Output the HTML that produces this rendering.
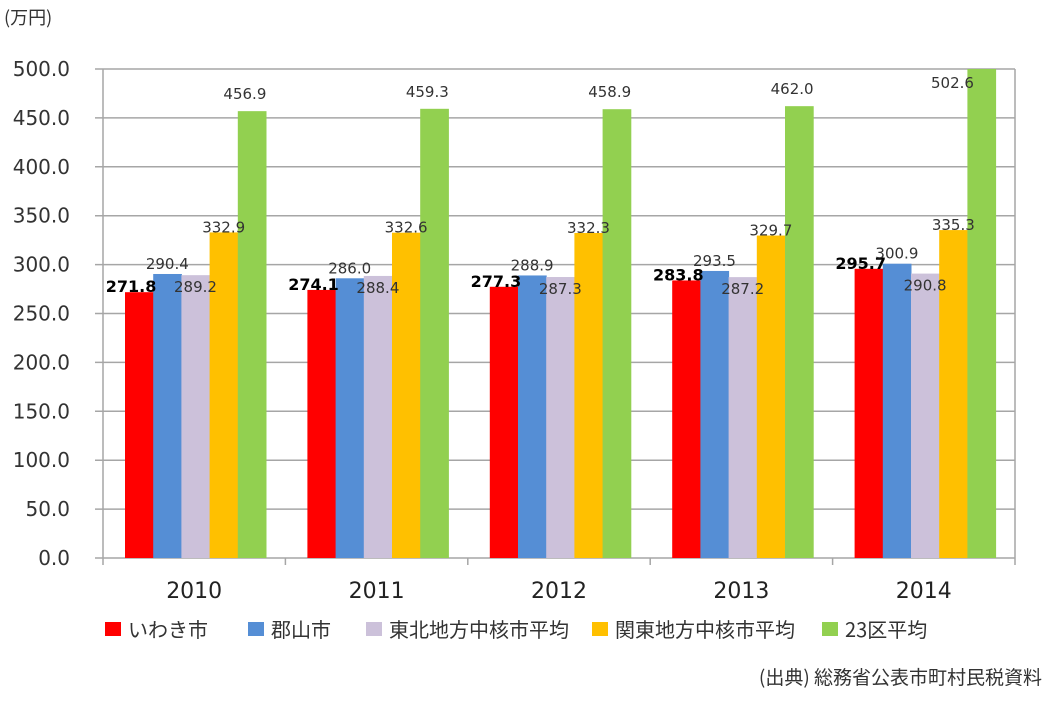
<!DOCTYPE html>
<html><head><meta charset="utf-8"><style>
body{margin:0;background:#fff;}
svg text{font-family:"DejaVu Sans","Noto Sans CJK JP",sans-serif;}
svg text.jp{font-family:"Noto Sans CJK JP",sans-serif;}
</style></head><body>
<svg width="1051" height="698" xmlns="http://www.w3.org/2000/svg" id="chart">
<text x="4" y="24" font-size="18" fill="#333" class="jp">(万円)</text>
<g id="grid"></g><g id="bars"></g><g id="labels"></g><g id="axes"></g><g id="legend"></g>
<text x="1042" y="684" font-size="19" fill="#333" text-anchor="end" class="jp">(出典) 総務省公表市町村民税資料</text>
</svg>
<script>
const years=["2010","2011","2012","2013","2014"];
const seriesNames=["いわき市","郡山市","東北地方中核市平均","関東地方中核市平均","23区平均"];
const iwaki=[271.8,274.1,277.3,283.8,295.7];
const koriyama=[290.4,286.0,288.9,293.5,300.9];
const tohoku=[289.2,288.4,287.3,287.2,290.8];
const kanto=[332.9,332.6,332.3,329.7,335.3];
const ku23=[456.9,459.3,458.9,462.0,502.6];
const yTicks=[0,50,100,150,200,250,300,350,400,450,500];
const series=[iwaki,koriyama,tohoku,kanto,ku23];
const colors=["#ff0000","#558ed5","#ccc1da","#ffc000","#92d050"];
const NS="http://www.w3.org/2000/svg";
const X0=103,X1=1015,Y0=558,Y1=69;
const gw=(X1-X0)/years.length,bw=28.2,off=22;
const y=v=>Y0-(Math.min(v,500)/500)*(Y0-Y1);
const bx=(g,s)=>X0+g*gw+off+s*bw;
function mk(tag,attrs,parent){const e=document.createElementNS(NS,tag);for(const k in attrs)e.setAttribute(k,attrs[k]);parent.appendChild(e);return e;}
const grid=document.getElementById('grid'),bars=document.getElementById('bars'),labels=document.getElementById('labels'),axes=document.getElementById('axes'),legend=document.getElementById('legend');
yTicks.forEach(t=>{
 const l=mk('line',{x1:95,x2:X1,y1:y(t),y2:y(t),stroke:'#a6a6a6','stroke-width':1.5},grid);
 
 
 const tx=mk('text',{x:70,y:y(t)+7,'font-size':20,fill:'#333','text-anchor':'end'},axes);
 tx.textContent=t.toFixed(1);
 
 
});
mk('line',{x1:X0,x2:X0,y1:Y1,y2:Y0,stroke:'#a6a6a6','stroke-width':1.5},axes);
mk('line',{x1:X1,x2:X1,y1:Y1,y2:Y0,stroke:'#a6a6a6','stroke-width':1.5},axes);
for(let g=0;g<=years.length;g++){mk('line',{x1:X0+g*gw,x2:X0+g*gw,y1:Y0,y2:Y0+7,stroke:'#a6a6a6','stroke-width':1.5},axes);}
years.forEach((yr,g)=>{
 const t=mk('text',{x:X0+g*gw+gw/2,y:598,'font-size':22,fill:'#222','text-anchor':'middle'},axes);
 t.textContent=yr;
 
 
});
const dxs=[-8,0,0,0,-7],dys=[0,-5,17,0,-12];
series.forEach((vals,s)=>{
 vals.forEach((v,g)=>{
  const r=mk('rect',{x:bx(g,s),y:y(v),width:bw+0.5,height:Y0-y(v),fill:colors[s]},bars);
  
  
  let lx=bx(g,s)+bw/2+dxs[s],ly=y(v)+dys[s];
  if(v>500){lx=bx(g,s)+bw/2-29;ly=Y1+19;}
  const t=mk('text',{x:lx,y:ly,'font-size':s==0?16:15,'font-weight':s==0?'bold':'normal',fill:s==0?'#000':'#333','text-anchor':'middle'},labels);
  t.textContent=v.toFixed(1);
  
  
 });
});
const lxs=[105,248,366,592,822];
seriesNames.forEach((n,s)=>{
 const r=mk('rect',{x:lxs[s],y:622,width:16,height:14,fill:colors[s]},legend);
 
 
 const t=mk('text',{x:lxs[s]+23,y:637,'font-size':20,fill:'#333',class:'jp'},legend);
 t.textContent=n;
 
 
});
</script>
</body></html>
